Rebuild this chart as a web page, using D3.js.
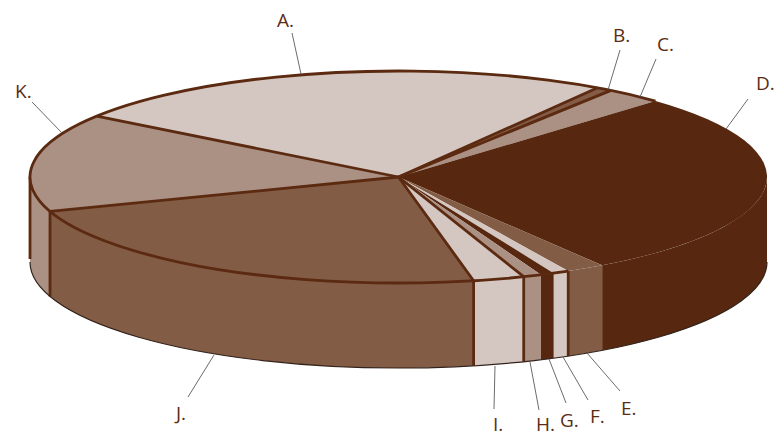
<!DOCTYPE html>
<html>
<head>
<meta charset="utf-8">
<script src="https://cdn.jsdelivr.net/npm/d3@7"></script>
<style>
  html, body { margin: 0; padding: 0; background: #fff; }
  text { font-family: "Open Sans", sans-serif; font-size: 19px; fill: #5b2c14; }
</style>
</head>
<body>
<svg id="chart" width="776" height="436"></svg>
<script>
var categories = ['A.', 'B.', 'C.', 'D.', 'E.', 'F.', 'G.', 'H.', 'I.', 'J.', 'K.'];
var shares = [24.36, 0.7, 2.5, 28.4, 1.7, 0.7, 0.6, 0.8, 2.25, 23, 14.99];
var sliceColors = ['#d4c7c2', '#835c46', '#ab9084', '#57280f', '#835c46', '#d4c7c2', '#57280f', '#ab9084', '#d4c7c2', '#835c46', '#ab9084'];

// which slices get a dark line on their leading radius / on their side wall
var radiusLine = [1, 1, 1, 0, 0, 0, 0, 0, 1, 1, 1];
var wallLine = [0, 0, 0, 0, 0, 1, 0, 0, 1, 1, 1];

// label baseline positions and leader lines, placed by hand
var labelPos = [[277, 27], [613, 42], [657, 51], [756, 90], [621, 415], [590, 423], [560, 427], [536, 431], [493, 431], [176, 420], [15, 98]];
var leaders = [[292, 33, 301, 74], [620, 50, 608, 90], [656, 59, 640, 97], [748, 99, 726, 129], [620, 391, 587, 353], [588, 400, 563, 357], [566, 403, 549, 359], [539, 410, 530, 362], [494, 409, 495, 366], [188, 397, 214, 355], [32, 102, 62, 133]];

var dark = '#5b2a10';
var depth = 85;
var rx = 368.5, ry = 106;
var x = d3.scaleLinear().domain([-1, 1]).range([30, 767]);
var y = d3.scaleLinear().domain([-1, 1]).range([71, 283]);

var svg = d3.select('#chart');
var rad = Math.PI / 180;
var pie = d3.pie().sort(null).startAngle(-55 * rad).endAngle(305 * rad);
var slices = pie(shares);

function px(a) { return x(Math.sin(a)); }
function py(a) { return y(-Math.cos(a)); }

function rimArc(a0, a1, dy) {
  var big = a1 - a0 > Math.PI ? 1 : 0;
  return 'A' + rx + ',' + ry + ' 0 ' + big + ' 1 ' + px(a1) + ',' + (py(a1) + dy);
}

// the part of a slice facing the viewer, or null if it is on the back
function frontOf(d) {
  var a0 = Math.max(d.startAngle, 90 * rad);
  var a1 = Math.min(d.endAngle, 270 * rad);
  return a1 > a0 ? [a0, a1] : null;
}

// side walls
svg.append('g').selectAll('path')
  .data(slices.filter(frontOf))
  .enter().append('path')
  .attr('fill', function(d) { return sliceColors[d.index]; })
  .attr('d', function(d) {
    var f = frontOf(d);
    return 'M' + px(f[0]) + ',' + py(f[0]) + rimArc(f[0], f[1], 0) +
      'L' + px(f[1]) + ',' + (py(f[1]) + depth) +
      'A' + rx + ',' + ry + ' 0 0 0 ' + px(f[0]) + ',' + (py(f[0]) + depth) + 'Z';
  });

// vertical lines on the wall
svg.append('g').selectAll('line')
  .data(slices.filter(function(d) { return wallLine[d.index]; }))
  .enter().append('line')
  .attr('x1', function(d) { return px(d.startAngle); })
  .attr('x2', function(d) { return px(d.startAngle); })
  .attr('y1', function(d) { return py(d.startAngle); })
  .attr('y2', function(d) { return py(d.startAngle) + depth; })
  .attr('stroke', dark)
  .attr('stroke-width', 2.8);

// outer left edge and bottom edge
svg.append('line')
  .attr('x1', x(-1)).attr('x2', x(-1))
  .attr('y1', y(0)).attr('y2', y(0) + depth - 3)
  .attr('stroke', dark).attr('stroke-width', 2.8);
svg.append('path')
  .attr('fill', 'none')
  .attr('stroke', '#33231b')
  .attr('stroke-width', 1.2)
  .attr('d', 'M' + x(-1) + ',' + (y(0) + depth) + 'A' + rx + ',' + ry + ' 0 0 0 ' + x(1) + ',' + (y(0) + depth));

// top faces
svg.append('g').selectAll('path')
  .data(slices)
  .enter().append('path')
  .attr('fill', function(d) { return sliceColors[d.index]; })
  .attr('d', function(d) {
    return 'M' + x(0) + ',' + y(0) + 'L' + px(d.startAngle) + ',' + py(d.startAngle) +
      rimArc(d.startAngle, d.endAngle, 0) + 'Z';
  });

// radius lines
svg.append('g').selectAll('line')
  .data(slices.filter(function(d) { return radiusLine[d.index]; }))
  .enter().append('line')
  .attr('x1', x(0)).attr('y1', y(0))
  .attr('x2', function(d) { return px(d.startAngle); })
  .attr('y2', function(d) { return py(d.startAngle); })
  .attr('stroke', dark)
  .attr('stroke-width', 2.8);

// rim line, from the right of D's back round to the front of F
svg.append('path')
  .attr('fill', 'none')
  .attr('stroke', dark)
  .attr('stroke-width', 2.8)
  .attr('d', function() {
    var a0 = slices[5].startAngle, a1 = slices[3].startAngle + 2 * Math.PI;
    return 'M' + px(a0) + ',' + py(a0) + rimArc(a0, a1, 0);
  });

// labels and leaders
svg.append('g').selectAll('line')
  .data(leaders)
  .enter().append('line')
  .attr('x1', function(d) { return d[0]; })
  .attr('y1', function(d) { return d[1]; })
  .attr('x2', function(d) { return d[2]; })
  .attr('y2', function(d) { return d[3]; })
  .attr('stroke', '#5a5a5a')
  .attr('stroke-width', 0.9);

svg.append('g').selectAll('text')
  .data(categories)
  .enter().append('text')
  .attr('x', function(d, i) { return labelPos[i][0]; })
  .attr('y', function(d, i) { return labelPos[i][1]; })
  .text(function(d) { return d; });
</script>
</body>
</html>
